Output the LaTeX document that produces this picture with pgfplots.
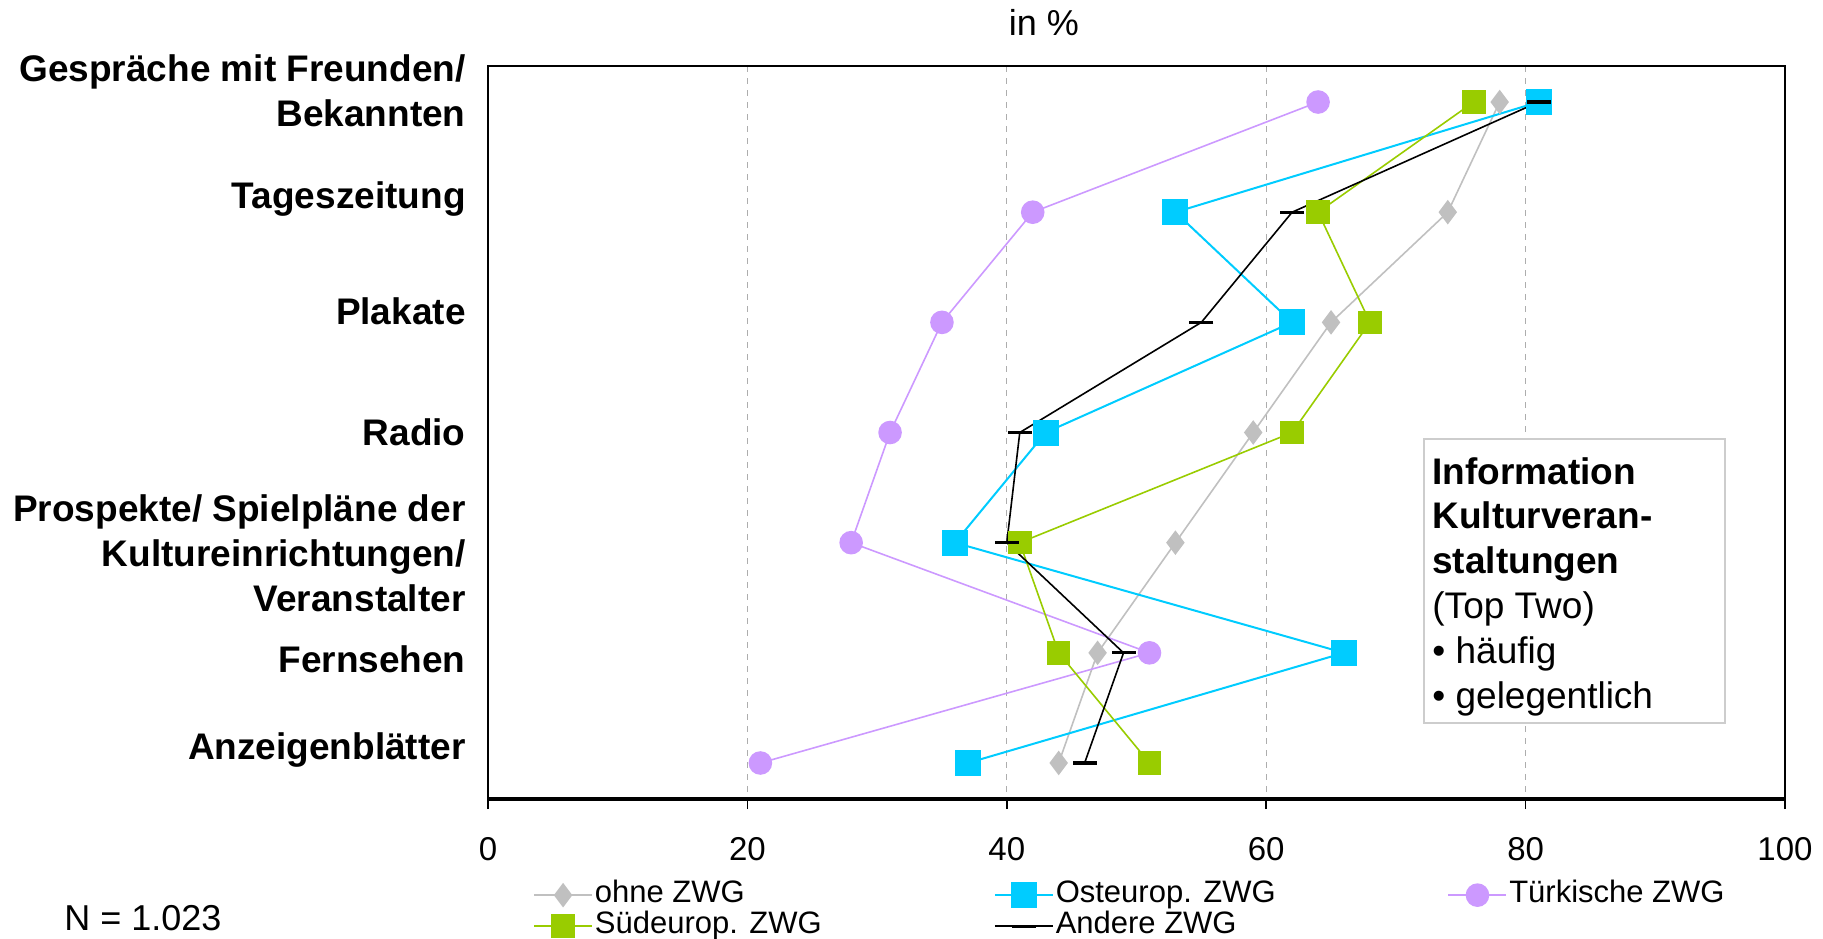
\documentclass[border=0pt]{standalone}
\usepackage{fontspec}
\setmainfont{Liberation Sans}
\usepackage{pgfplots}
\pgfplotsset{compat=1.18}
\definecolor{cgray}{HTML}{C0C0C0}
\definecolor{ccyan}{HTML}{00CCFF}
\definecolor{cpurple}{HTML}{CC99FF}
\definecolor{cgreen}{HTML}{99CC00}
\begin{document}
\begin{tikzpicture}
\useasboundingbox (-244pt,-69.5pt) rectangle (667.5pt,399.5pt);
\begin{axis}[
  at={(0,0)}, anchor=south west,
  width=648.5pt, height=366.5pt, scale only axis,
  xmin=0, xmax=100, xtick={0,20,...,100},
  ymin=-0.327, ymax=6.327, y dir=reverse,
  ytick={-0.1,0.88,1.9,3,4.1,5.06,5.88},
  yticklabels={{Gespräche mit Freunden/\\Bekannten},{Tageszeitung},{Plakate},{Radio},{Prospekte/ Spielpläne der\\Kultureinrichtungen/\\Veranstalter},{Fernsehen},{Anzeigenblätter}},
  ytick style={draw=none},
  xtick style={black, line width=0.8pt},
  tick align=outside, major tick length=5pt,
  xtick pos=left,
  xmajorgrids, grid style={cgray!90!black, dash pattern=on 3pt off 3pt, line width=0.5pt},
  axis line style={black, line width=1pt},
  /pgf/number format/assume math mode=true,
  xticklabel style={font=\fontsize{16.5}{18}\selectfont, anchor=north, inner sep=0pt, yshift=-14pt},
  yticklabel style={font=\fontsize{18.5}{22.5}\selectfont\bfseries, align=right, anchor=east, inner sep=0pt, xshift=-6pt},
  legend columns=3,
  legend cell align=left,
  legend style={at={(0.030,-0.104)}, anchor=north west, draw=none, fill=none,
    font=\fontsize{15.5}{15.5}\selectfont,
    /tikz/every even column/.append style={column sep=85pt},
    nodes={inner sep=1pt, text height=10.5pt, text depth=3pt}},
  legend image code/.code={\draw[mark repeat=2, mark phase=2] plot coordinates {(0pt,0pt) (14.5pt,0pt) (29pt,0pt)};},
  clip=false,
]
\addplot[cgray, line width=0.8pt, mark=diamond*, mark size=5.5pt, mark options={fill=cgray, draw=cgray}]
  coordinates {(78,0) (74,1) (65,2) (59,3) (53,4) (47,5) (44,6)};
\addlegendentry{ohne ZWG}
\addplot[ccyan, line width=1pt, mark=square*, mark size=6pt, mark options={fill=ccyan, draw=ccyan}]
  coordinates {(81,0) (53,1) (62,2) (43,3) (36,4) (66,5) (37,6)};
\addlegendentry{Osteurop. ZWG}
\addplot[cpurple, line width=0.8pt, mark=*, mark size=5.5pt, mark options={fill=cpurple, draw=cpurple}]
  coordinates {(64,0) (42,1) (35,2) (31,3) (28,4) (51,5) (21,6)};
\addlegendentry{Türkische ZWG}
\addplot[cgreen, line width=0.8pt, mark=square*, mark size=5.5pt, mark options={fill=cgreen, draw=cgreen}]
  coordinates {(76,0) (64,1) (68,2) (62,3) (41,4) (44,5) (51,6)};
\addlegendentry{Südeurop. ZWG}
\addplot[black, line width=0.8pt, mark=-, mark size=6pt, mark options={line width=1.6pt}]
  coordinates {(81,0) (62,1) (55,2) (41,3) (40,4) (49,5) (46,6)};
\addlegendentry{Andere ZWG}
\end{axis}
\draw[black, line width=1.6pt] (0,0) -- (648.5pt,0);
\draw[cgray!80, line width=0.8pt, fill=white] (468pt,38pt) rectangle (618.5pt,180pt);
\begin{scope}[every node/.style={anchor=base west, inner sep=0pt, font=\fontsize{18.5}{22.4}\selectfont}]
\node at (472pt,157.5pt) {\textbf{Information}};
\node at (472pt,135.1pt) {\textbf{Kulturveran-}};
\node at (472pt,112.7pt) {\textbf{staltungen}};
\node at (472pt,90.3pt) {(Top Two)};
\node at (472pt,67.9pt) {• häufig};
\node at (472pt,45.5pt) {• gelegentlich};
\end{scope}
\node[font=\fontsize{18}{20}\selectfont, inner sep=0pt] at (278pt,388pt) {in \%};
\node[font=\fontsize{18}{20}\selectfont, anchor=west, inner sep=0pt] at (-212pt,-59.5pt) {N = 1.023};
\end{tikzpicture}
\end{document}
